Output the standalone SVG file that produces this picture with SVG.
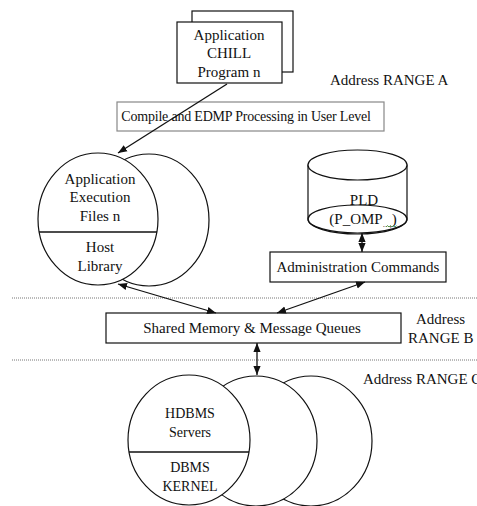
<svg xmlns="http://www.w3.org/2000/svg" width="477" height="506" viewBox="0 0 477 506">
<defs>
<style>
text{font-family:'Liberation Serif',serif;font-size:15px;fill:#111;text-anchor:middle}
.lbl{text-anchor:start}
.small{font-size:14px}
.cmp{font-size:14px;letter-spacing:-0.2px}
.sub{font-size:9px}
.shape{fill:#fff;stroke:#111;stroke-width:1.2}
.gbox{fill:#fff;stroke:#888;stroke-width:1.2}
.conn{fill:none;stroke:#111;stroke-width:1.3}
.dot{stroke:#777;stroke-width:1;stroke-dasharray:1 1}
</style>
<marker id="ah" viewBox="0 0 10 10" refX="10" refY="5" markerWidth="9" markerHeight="9" markerUnits="userSpaceOnUse" orient="auto-start-reverse">
<path d="M0,1 L10,5 L0,9 z" fill="#111"/>
</marker>
</defs>
<rect width="477" height="506" fill="#fff"/>

<g id="dividers">
<line class="dot" x1="12" y1="298" x2="477" y2="298"/>
<line class="dot" x1="12" y1="360" x2="477" y2="360"/>
</g>

<g id="range-labels">
<text class="lbl" x="330" y="85">Address RANGE A</text>
<text class="lbl" x="416" y="324">Address</text>
<text class="lbl" x="408" y="343">RANGE B</text>
<text class="lbl" x="363" y="384">Address RANGE C</text>
</g>

<g id="app-program">
<rect class="shape" x="192" y="11" width="101" height="61"/>
<rect class="shape" x="177" y="22" width="105" height="61"/>
<text x="229" y="40">Application</text>
<text x="229" y="58">CHILL</text>
<text x="229" y="77">Program n</text>
</g>

<g id="compile">
<rect class="gbox" x="117" y="102" width="267" height="29"/>
<text class="cmp" x="246" y="121">Compile and EDMP Processing in User Level</text>
</g>

<g id="exec-files">
<ellipse class="shape" cx="149" cy="220" rx="60" ry="66"/>
<ellipse class="shape" cx="98" cy="219" rx="60" ry="66"/>
<line class="conn" x1="39" y1="232" x2="157" y2="232"/>
<text x="100" y="184">Application</text>
<text x="100" y="202">Execution</text>
<text x="100" y="221">Files n</text>
<text x="100" y="252">Host</text>
<text x="100" y="271">Library</text>
</g>

<g id="pld">
<path class="shape" d="M308,165 L308,219 A49.5,15 0 0 0 407,219 L407,165 Z"/>
<ellipse class="shape" cx="357.5" cy="165" rx="49.5" ry="15"/>
<ellipse fill="none" stroke="#111" stroke-width="1.2" cx="357.5" cy="219" rx="49.5" ry="14"/>
<text x="364" y="205">PLD</text>
<text x="363" y="224">(P_OMP<tspan class="sub" dy="3">...,</tspan><tspan dy="-3">)</tspan></text>
<path d="M386,227 l1.5,-1.5 l1.5,1.5 l1.5,-1.5 l1.5,1.5 l1.5,-1.5 l1.5,1.5 l1.5,-1.5" fill="none" stroke="#3a8a3a" stroke-width="0.8"/>
</g>

<g id="admin">
<rect class="shape" x="270" y="252" width="176" height="30"/>
<text x="358" y="272">Administration Commands</text>
</g>

<g id="shared">
<rect class="shape" x="106" y="313" width="295" height="30"/>
<text x="252" y="333">Shared Memory &amp; Message Queues</text>
</g>

<g id="hdbms">
<ellipse class="shape" cx="311" cy="441" rx="61" ry="65"/>
<ellipse class="shape" cx="256" cy="441" rx="61" ry="65"/>
<ellipse class="shape" cx="189" cy="440" rx="61" ry="65"/>
<line class="conn" x1="129" y1="452" x2="249" y2="452"/>
<text class="small" x="190" y="418">HDBMS</text>
<text class="small" x="190" y="437">Servers</text>
<text class="small" x="190" y="472">DBMS</text>
<text class="small" x="190" y="491">KERNEL</text>
</g>

<g id="connectors">
<line class="conn" x1="227" y1="84" x2="118" y2="153" marker-end="url(#ah)"/>
<line class="conn" x1="118" y1="284" x2="216" y2="313" marker-start="url(#ah)" marker-end="url(#ah)"/>
<line class="conn" x1="365" y1="282" x2="277" y2="313" marker-start="url(#ah)" marker-end="url(#ah)"/>
<line class="conn" x1="362" y1="233" x2="362" y2="252" marker-start="url(#ah)" marker-end="url(#ah)"/>
<line class="conn" x1="257" y1="343" x2="257" y2="375" marker-start="url(#ah)" marker-end="url(#ah)"/>
</g>
</svg>
